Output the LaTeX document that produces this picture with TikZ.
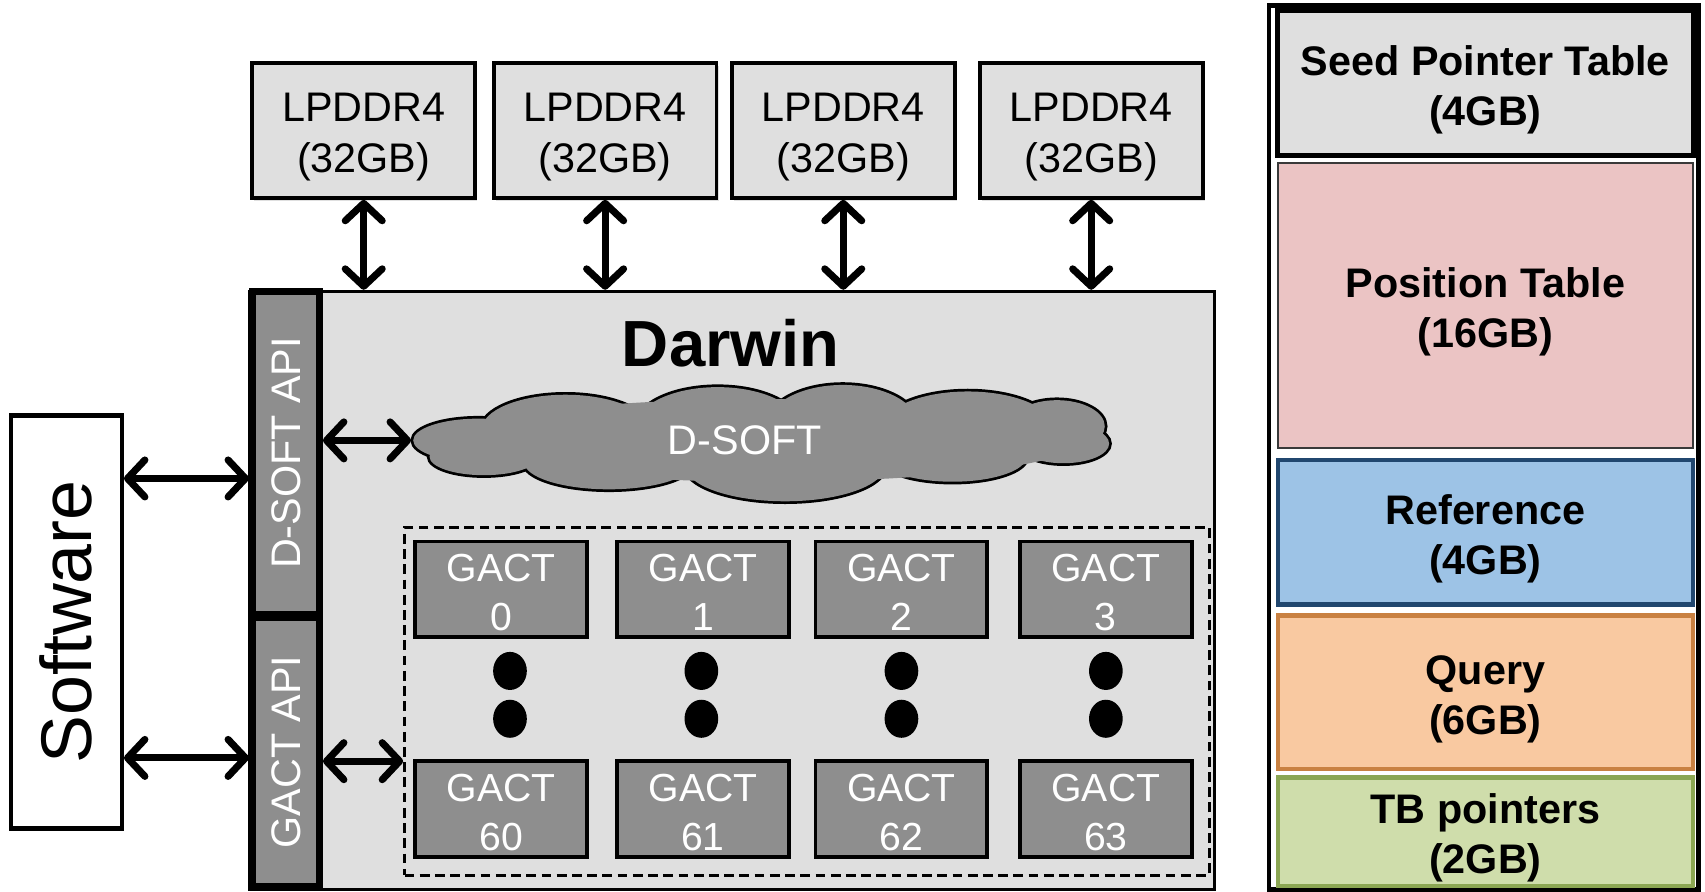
\documentclass[tikz,border=0pt]{standalone}
\usepackage{fontspec}
\setmainfont{Liberation Sans}
\usetikzlibrary{arrows.meta,shapes.geometric,shadows}
\definecolor{lg}{HTML}{DFDFDF}
\definecolor{dg}{HTML}{8E8E8E}
\definecolor{posfill}{HTML}{EBC4C4}
\definecolor{posdraw}{HTML}{3A3A3A}
\definecolor{reffill}{HTML}{9DC3E6}
\definecolor{refdraw}{HTML}{21476F}
\definecolor{qfill}{HTML}{F9C9A1}
\definecolor{qdraw}{HTML}{C98142}
\definecolor{tbfill}{HTML}{CFDDAB}
\definecolor{tbdraw}{HTML}{8BA653}
\begin{document}
\begin{tikzpicture}[x=1pt,y=-1pt,
 box/.style={draw=black, line width=3.5pt, inner sep=0pt, align=center},
 shad/.style={drop shadow={shadow xshift=2pt, shadow yshift=-3pt, opacity=0.25}},
 lp/.style={box, shad, fill=lg, minimum width=205pt, minimum height=124pt, text height=86pt, font=\fontsize{38}{47}\selectfont},
 gact/.style={box, fill=dg, text=white, minimum width=158pt, minimum height=88pt, text height=76pt, font=\fontsize{36}{45}\selectfont},
 api/.style={box, line width=6pt, fill=dg, text=white, minimum height=62pt, rotate=90, font=\fontsize{38}{46}\selectfont},
 sec/.style={box, minimum width=382pt, text height=85pt, font=\bfseries\fontsize{38}{46}\selectfont},
 arr/.style={line width=6.5pt, {Straight Barb[length=16pt,width=34pt,round]}-{Straight Barb[length=16pt,width=34pt,round]}},
 dotm/.style={fill=black, ellipse, minimum width=31pt, minimum height=35pt, inner sep=0pt},
 puff/.style={draw=black, line width=5pt, fill=dg}
]
\useasboundingbox (0,0) rectangle (1568,820);

% Software
\node[box, line width=4pt, minimum width=380pt, minimum height=102pt, font=\fontsize{66}{70}\selectfont, rotate=90] (sw) at (61,572) {Software};

% LPDDR4 memories
\node[lp] (m1) at (334.5,120) {LPDDR4\\(32GB)};
\node[lp] (m2) at (556.5,120) {LPDDR4\\(32GB)};
\node[lp] (m3) at (775.5,120) {LPDDR4\\(32GB)};
\node[lp] (m4) at (1003.5,120) {LPDDR4\\(32GB)};

% Darwin box
\node[box, line width=3pt, fill=lg, minimum width=887pt, minimum height=550pt] (darwin) at (673.5,543) {};
\node[font=\bfseries\fontsize{60}{64}\selectfont, inner sep=0pt] (dtitle) at (672,316) {Darwin};

% API bars
\node[api, minimum width=297pt] (dsapi) at (263,416.5) {D-SOFT API};
\node[api, minimum width=247pt] (gactapi) at (263,691.5) {GACT API};

% cloud (union of puffs)
\def\puffs{%
  (520,395) ellipse [x radius=77, y radius=32]
  (660,392) ellipse [x radius=75, y radius=36]
  (775,392) ellipse [x radius=70, y radius=38]
  (890,395) ellipse [x radius=80, y radius=35]
  (972,392) ellipse [x radius=44, y radius=24]
  (440,405) ellipse [x radius=60, y radius=20]
  (445,420) ellipse [x radius=50, y radius=17]
  (560,425) ellipse [x radius=78, y radius=25]
  (722,428) ellipse [x radius=92, y radius=33]
  (876,420) ellipse [x radius=68, y radius=23]
  (978,408) ellipse [x radius=42, y radius=18]}
\path[puff] \puffs;
\path[fill=dg] \puffs;
\path[fill=dg] (705,405) ellipse [x radius=290, y radius=38];
\node[text=white, font=\fontsize{38}{46}\selectfont, inner sep=0pt] (dsoft) at (685,405) {D-SOFT};
\coordinate (cloudw) at (378,405);

% GACT array
\node[draw=black, line width=2.5pt, dash pattern=on 9pt off 5pt, minimum width=740pt, minimum height=320pt, inner sep=0pt] (gbox) at (742,645) {};
\node[gact] (g0) at (461,542) {GACT\\0};
\node[gact] (g1) at (646.5,542) {GACT\\1};
\node[gact] (g2) at (829,542) {GACT\\2};
\node[gact] (g3) at (1017,542) {GACT\\3};
\node[gact] (g60) at (461,744) {GACT\\60};
\node[gact] (g61) at (646.5,744) {GACT\\61};
\node[gact] (g62) at (829,744) {GACT\\62};
\node[gact] (g63) at (1017,744) {GACT\\63};
\foreach \x/\n in {469/a,645/b,829/c,1017/d}{
  \node[dotm] (dt\n) at (\x,617) {};
  \node[dotm] (db\n) at (\x,661) {};
}

% connectors
\draw[arr] ([yshift=132pt]sw.south) -- ([yshift=132pt]sw.south -| dsapi.north);
\draw[arr] ([yshift=-125pt]sw.south) -- ([yshift=-125pt]sw.south -| gactapi.north);
\foreach \m in {m1,m2,m3,m4}{
  \draw[arr] (\m.south) -- (\m.south |- darwin.north);
}
\draw[arr] (dsapi.south |- cloudw) -- (cloudw);
\draw[arr] ([yshift=-8.5pt]gactapi.south) -- ([yshift=-8.5pt]gactapi.south -| gbox.west);

% memory layout panel
\node[box, line width=4pt, minimum width=395pt, minimum height=813pt] (mem) at (1364.5,411.5) {};
\node[sec, fill=lg, line width=4.5pt, minimum height=133pt] (spt) at (1366,76.5) {Seed Pointer Table\\(4GB)};
\node[sec, fill=posfill, draw=posdraw, line width=2pt, minimum height=262pt] (pos) at (1366,281) {Position Table\\(16GB)};
\node[sec, fill=reffill, draw=refdraw, line width=4pt, minimum height=133pt] (ref) at (1366,489.5) {Reference\\(4GB)};
\node[sec, fill=qfill, draw=qdraw, line width=4pt, minimum height=141pt] (qry) at (1366,636.5) {Query\\(6GB)};
\node[sec, fill=tbfill, draw=tbdraw, line width=4pt, minimum height=100pt] (tb) at (1366,765) {TB pointers\\(2GB)};
\end{tikzpicture}
\end{document}
